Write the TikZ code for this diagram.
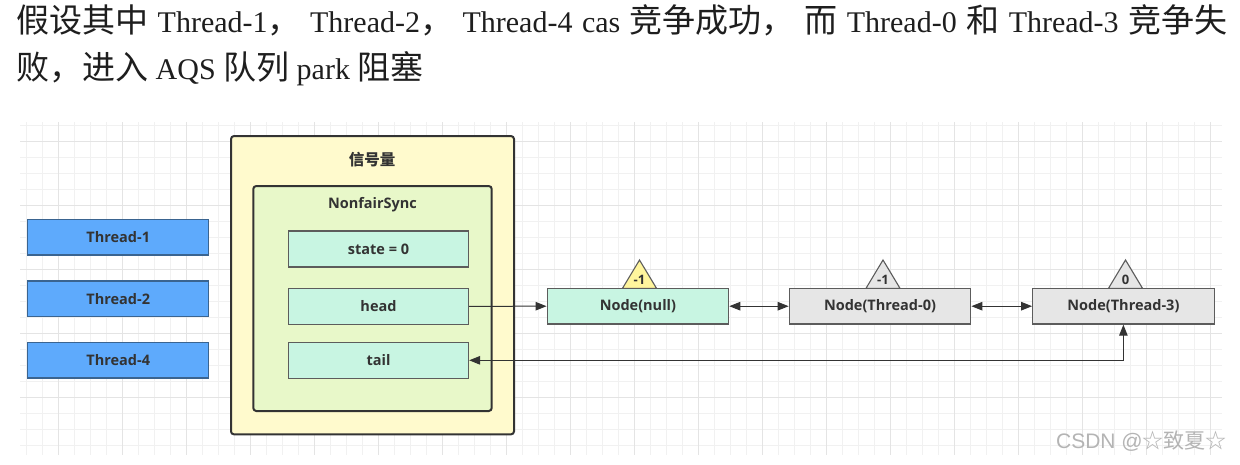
\documentclass[tikz,border=0pt]{standalone}
\usepackage{fontspec}
\setmainfont{Liberation Serif}
\newfontfamily\cjk{Noto Sans CJK SC}
\IfFontExistsTF{Open Sans Bold}{\newfontfamily\dgb{Open Sans Bold}}{\newfontfamily\dgb{Noto Sans}[FakeBold=2]}
\usetikzlibrary{arrows.meta}
\definecolor{gridminor}{HTML}{F1F1F1}
\definecolor{gridmajor}{HTML}{E4E4E4}
\definecolor{thrfill}{HTML}{5EAAFC}
\definecolor{thrdraw}{HTML}{3A6490}
\definecolor{semfill}{HTML}{FFFACD}
\definecolor{nfsfill}{HTML}{E8F8C9}
\definecolor{mint}{HTML}{C8F5E2}
\definecolor{nodegray}{HTML}{E6E6E6}
\definecolor{triyellow}{HTML}{FFF59D}
\definecolor{ink}{HTML}{333333}
\definecolor{txt}{HTML}{1E1E1E}
\definecolor{wm}{HTML}{B4B4B4}
\newcommand\hz[1]{{\cjk\fontsize{33}{36}\selectfont #1}}
\newcommand\gp{\hspace{9.5pt}}
\newcommand\gq{\hspace{7.5pt}}
\tikzset{
  gminor/.style={draw=gridminor, line width=1pt},
  gmajor/.style={draw=gridmajor, line width=1pt},
  dgtext/.style={font=\dgb\fontsize{14.5}{16}\selectfont, text=ink},
  thr/.style={dgtext, draw=thrdraw, fill=thrfill, line width=1.2pt, minimum width=181pt, minimum height=35.5pt, inner sep=0pt},
  field/.style={dgtext, draw=ink!80, fill=mint, line width=1.2pt, minimum width=180pt, minimum height=36pt, inner sep=0pt},
  qnode/.style={dgtext, draw=ink!80, line width=1.2pt, minimum width=181.5pt, minimum height=35.7pt, inner sep=0pt},
  container/.style={draw=ink, line width=2pt, rounded corners=3pt, inner sep=0pt},
  tri/.style={draw=ink!80, line width=1.1pt, line join=miter},
  trilabel/.style={font=\dgb\fontsize{13}{14}\selectfont, text=ink, inner sep=0pt},
  conn/.style={draw=ink, line width=1pt},
  tipr/.style={conn, -{Triangle[length=11pt,width=8.5pt]}},
  tipb/.style={conn, {Triangle[length=11pt,width=8.5pt]}-{Triangle[length=11pt,width=8.5pt]}},
  headline/.style={anchor=base west, inner sep=0pt, text=txt, font=\fontsize{30}{36}\selectfont},
}
\begin{document}
\begin{tikzpicture}[x=1pt,y=-1pt]
\path[use as bounding box, fill=white] (0,0) rectangle (1240,464);
% grid
\foreach \x in {26.5,42.5,...,1219} \draw[gminor] (\x,122) -- (\x,455);
\foreach \y in {125.7,141.7,...,450} \draw[gminor] (20,\y) -- (1222,\y);
\foreach \x in {58.5,122.5,...,1215} \draw[gmajor] (\x,122) -- (\x,455);
\foreach \y in {141.7,205.7,...,450} \draw[gmajor] (20,\y) -- (1222,\y);
% heading text
\node[headline] (line1) at (16,32.4) {\hz{假设其中}\gp Thread-1\hz{，}\gp Thread-2\hz{，}\gp Thread-4\gp cas\gp\hz{竞争成功，}\gp\hz{而}\gp Thread-0\gp\hz{和}\gp Thread-3\gp\hz{竞争失}};
\node[headline] (line2) at (16,79) {\hz{败，进入}\gq AQS\gq\hz{队列}\gq park\gq\hz{阻塞}};
% threads
\node[thr] (t1) at (118.2,237.2) {Thread-1};
\node[thr] (t2) at (118.2,298.7) {Thread-2};
\node[thr] (t4) at (118.2,360.3) {Thread-4};
% semaphore
\node[container, fill=semfill, minimum width=283pt, minimum height=298.3pt] (sem) at (372.5,285.2) {};
\node[font=\cjk\bfseries\fontsize{15.5}{18}\selectfont, text=ink, inner sep=0pt] (semlabel) at (372,160) {信号量};
\node[container, fill=nfsfill, minimum width=238.4pt, minimum height=225pt] (nfs) at (372.5,298.5) {};
\node[dgtext, inner sep=0pt] (nfslabel) at (372.5,204.3) {NonfairSync};
\node[field] (state) at (378.5,249) {state = 0};
\node[field] (head) at (378.5,306.3) {head};
\node[field] (tail) at (378.5,360.3) {tail};
% queue
\node[qnode, fill=mint] (nnull) at (637.9,306.2) {Node(null)};
\node[qnode, fill=nodegray] (n0) at (880,306.2) {Node(Thread-0)};
\node[qnode, fill=nodegray] (n3) at (1123.4,306.2) {Node(Thread-3)};
% wait-status triangles
\draw[tri, fill=triyellow] (622.5,288.3) -- (639.5,260) -- (656.5,288.3) -- cycle;
\draw[tri, fill=nodegray] (866,288.3) -- (883,260) -- (900,288.3) -- cycle;
\draw[tri, fill=nodegray] (1108.5,288.3) -- (1125.5,260) -- (1142.5,288.3) -- cycle;
\node[trilabel] (w1) at (639.5,280.2) {-1};
\node[trilabel] (w0) at (883,280.2) {-1};
\node[trilabel] (w3) at (1125.5,280.2) {0};
% connectors
\draw[tipr] (head.east) -- (nnull.west);
\draw[tipb] (nnull.east) -- (n0.west);
\draw[tipb] (n0.east) -- (n3.west);
\draw[tipb] (tail.east) -- (tail.east -| n3.south) -- (n3.south);
% watermark
\node[anchor=base east, inner sep=0pt, text=wm, font=\fontsize{21}{23}\selectfont] (mark) at (1227,448) {{\fontspec{Liberation Sans}CSDN @}{\cjk ☆致夏☆}};
\end{tikzpicture}
\end{document}
